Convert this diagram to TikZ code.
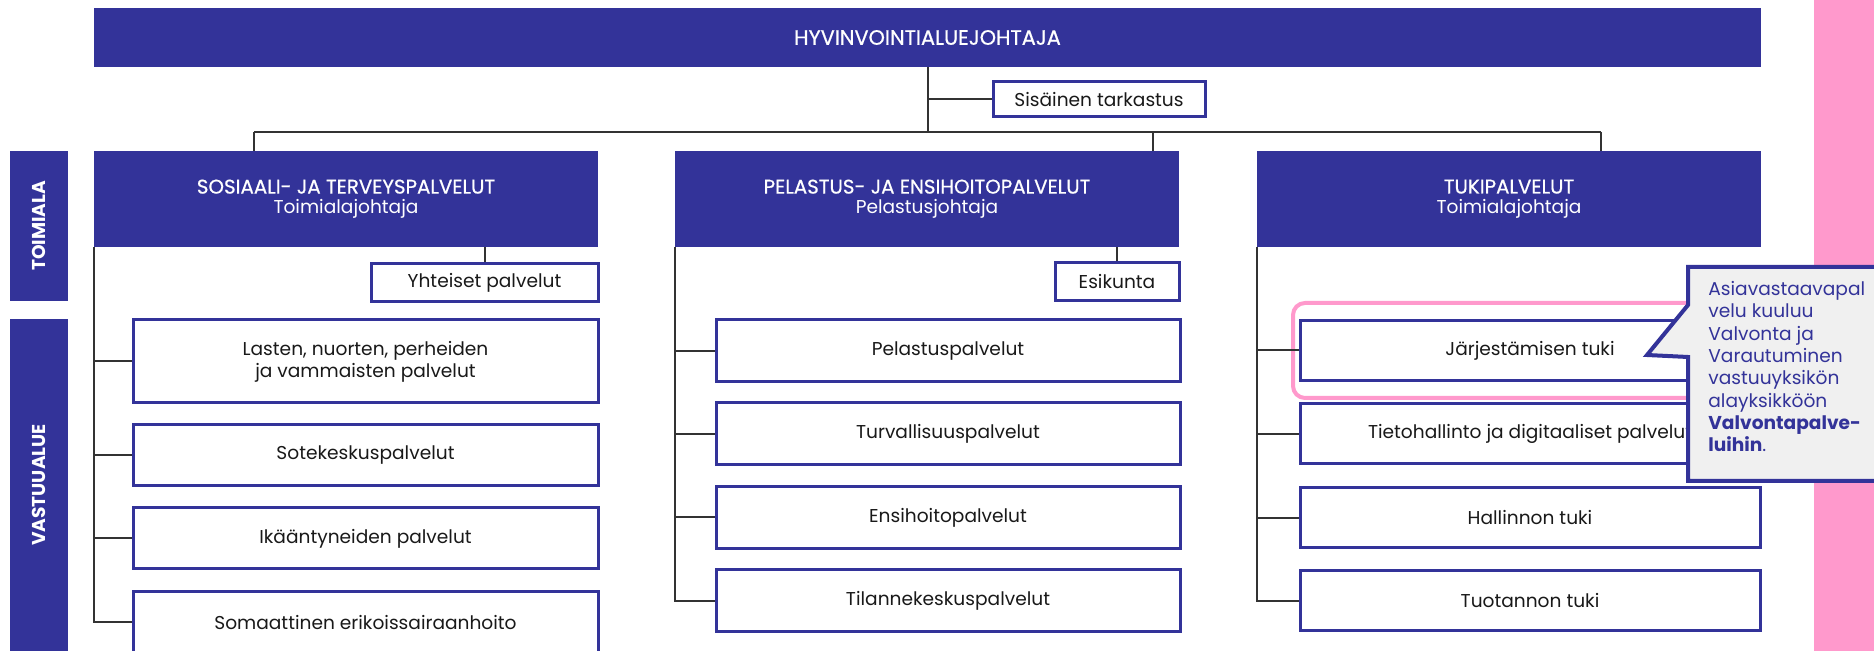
\documentclass[tikz,border=0pt]{standalone}
\usepackage{fontspec}
\setmainfont{Poppins}
\newfontfamily\medfont{Poppins}[FakeBold=0.6]
\definecolor{navy}{RGB}{51,51,153}
\definecolor{pinkhl}{RGB}{255,153,204}
\definecolor{notegray}{RGB}{240,240,240}
\tikzset{
  banner/.style={fill=navy,text=white,inner sep=0pt,align=center,font=\fontsize{9.3}{10}\selectfont},
  headbox/.style={banner,minimum width=252pt,minimum height=48pt},
  sidebox/.style={banner,rotate=90,minimum height=29pt,font=\bfseries\fontsize{9.3}{11}\selectfont},
  unitbox/.style={draw=navy,line width=1.5pt,fill=white,inner sep=0pt,align=center,text=black!90,font=\fontsize{9.3}{11}\selectfont},
  link/.style={line width=1pt,draw=black!80},
}
\newcommand{\otsikko}[1]{{\medfont\fontsize{9.9}{10}\selectfont #1}}
\begin{document}
\begin{tikzpicture}[x=0.5pt,y=-0.5pt]
\useasboundingbox (0,0) rectangle (1874,651);
\fill[white] (0,0) rectangle (1874,651);
\fill[pinkhl] (1814,0) rectangle (1874,651);
% ylin taso
\node[banner,minimum width=833.5pt,minimum height=29.5pt] (johtaja) at (927.5,37.5) {{\medfont\fontsize{10.4}{11}\selectfont HYVINVOINTIALUEJOHTAJA}};
\node[unitbox,minimum width=106pt,minimum height=17.5pt] (tarkastus) at (1099,99.5) {Sisäinen tarkastus};
\coordinate (vasen) at (254,132);
\coordinate (keski) at (1153,132);
\coordinate (oikea) at (1601,132);
\draw[link] (johtaja.south) -- (johtaja.south |- vasen);
\draw[link] (johtaja.south |- tarkastus.west) -- (tarkastus.west);
\draw[link] (vasen) -- (oikea);
% sivupalkit
\node[sidebox,minimum width=75pt] (toimiala) at (39,226) {TOIMIALA};
\node[sidebox,minimum width=166pt] (vastuualue) at (39,485) {VASTUUALUE};
% toimialat
\node[headbox] (sote) at (346,199) {\otsikko{SOSIAALI- JA TERVEYSPALVELUT}\\Toimialajohtaja};
\node[headbox] (pela) at (927,199) {\otsikko{PELASTUS- JA ENSIHOITOPALVELUT}\\Pelastusjohtaja};
\node[headbox] (tuki) at (1509,199) {\otsikko{TUKIPALVELUT}\\Toimialajohtaja};
\draw[link] (vasen) -- (vasen |- sote.north);
\draw[link] (keski) -- (keski |- pela.north);
\draw[link] (oikea) -- (oikea |- tuki.north);
% sosiaali- ja terveyspalvelut
\node[unitbox,minimum width=113.5pt,minimum height=19pt] (yhteiset) at (484.5,283) {Yhteiset palvelut};
\node[unitbox,minimum width=232.5pt,minimum height=41.5pt] (lasten) at (365.5,361.5) {Lasten, nuorten, perheiden\\ja vammaisten palvelut};
\node[unitbox,minimum width=232.5pt,minimum height=30.5pt] (sotekeskus) at (365.5,455.5) {Sotekeskuspalvelut};
\node[unitbox,minimum width=232.5pt,minimum height=30.5pt] (ikaant) at (365.5,538.5) {Ikääntyneiden palvelut};
\node[unitbox,minimum width=232.5pt,minimum height=30.5pt] (somaatt) at (365.5,622.5) {Somaattinen erikoissairaanhoito};
\draw[link] (yhteiset.north) -- (yhteiset.north |- sote.south);
\draw[link] (sote.south west) -- (sote.south west |- somaatt.west) -- (somaatt.west);
\draw[link] (sote.south west |- lasten.west) -- (lasten.west);
\draw[link] (sote.south west |- sotekeskus.west) -- (sotekeskus.west);
\draw[link] (sote.south west |- ikaant.west) -- (ikaant.west);
% pelastus- ja ensihoitopalvelut
\node[unitbox,minimum width=62pt,minimum height=19pt] (esikunta) at (1117,282) {Esikunta};
\node[unitbox,minimum width=232pt,minimum height=31pt] (pelastus) at (948,351) {Pelastuspalvelut};
\node[unitbox,minimum width=232pt,minimum height=31pt] (turva) at (948,434) {Turvallisuuspalvelut};
\node[unitbox,minimum width=232pt,minimum height=31pt] (ensihoito) at (948,517.5) {Ensihoitopalvelut};
\node[unitbox,minimum width=232pt,minimum height=31pt] (tilanne) at (948,601) {Tilannekeskuspalvelut};
\draw[link] (esikunta.north) -- (esikunta.north |- pela.south);
\draw[link] (pela.south west) -- (pela.south west |- tilanne.west) -- (tilanne.west);
\draw[link] (pela.south west |- pelastus.west) -- (pelastus.west);
\draw[link] (pela.south west |- turva.west) -- (turva.west);
\draw[link] (pela.south west |- ensihoito.west) -- (ensihoito.west);
% tukipalvelut
\draw[pinkhl,line width=2pt,rounded corners=6pt] (1293,303) rectangle (1768,398);
\node[unitbox,minimum width=230pt,minimum height=30pt] (jarj) at (1530,350.5) {Järjestämisen tuki};
\node[unitbox,minimum width=230pt,minimum height=30pt] (tieto) at (1530,434) {Tietohallinto ja digitaaliset palvelut};
\node[unitbox,minimum width=230pt,minimum height=30pt] (hallinto) at (1530,518) {Hallinnon tuki};
\node[unitbox,minimum width=230pt,minimum height=30pt] (tuotanto) at (1530,601) {Tuotannon tuki};
\draw[link] (tuki.south west) -- (tuki.south west |- tuotanto.west) -- (tuotanto.west);
\draw[link] (tuki.south west |- jarj.west) -- (jarj.west);
\draw[link] (tuki.south west |- tieto.west) -- (tieto.west);
\draw[link] (tuki.south west |- hallinto.west) -- (hallinto.west);
% huomautus
\filldraw[fill=notegray,draw=navy,line width=2pt] (1688,267) -- (1884,267) -- (1884,481) -- (1688,481) -- (1688,357) -- (1647,355) -- (1688,305) -- cycle;
\node[anchor=north west,align=left,inner sep=0pt,text=navy,font=\fontsize{9.3}{11.15}\selectfont] (huomio) at (1708,281)
  {Asiavastaavapal\\velu kuuluu\\Valvonta ja\\Varautuminen\\vastuuyksikön\\alayksikköön\\\textbf{Valvontapalve-}\\\textbf{luihin}.};
\end{tikzpicture}
\end{document}
